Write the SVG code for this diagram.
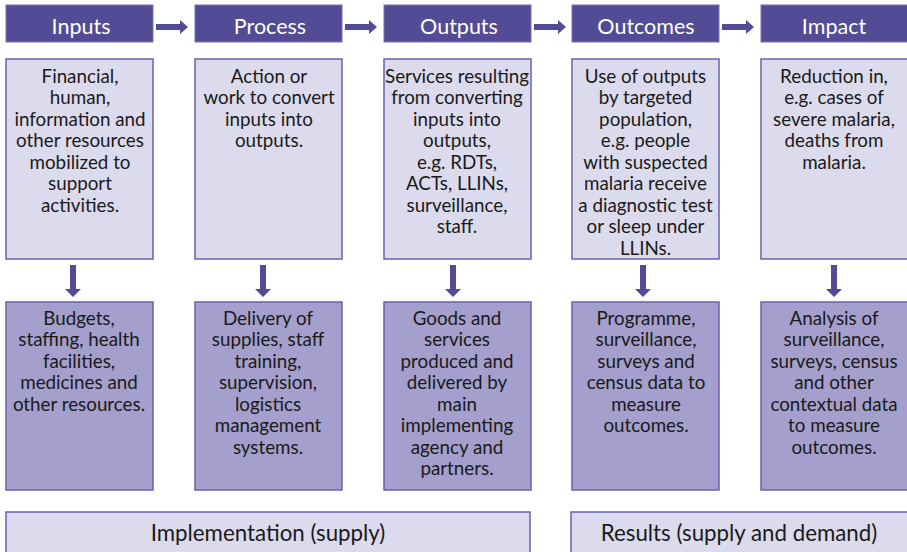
<svg xmlns="http://www.w3.org/2000/svg" width="907" height="552" viewBox="0 0 907 552">
<defs>
<style>
.hdr{fill:#534b95;stroke:#7a73b5;stroke-width:1}
.lt{fill:#dcdaed;stroke:#6a62aa;stroke-width:1.5}
.dk{fill:#a49fcc;stroke:#6a62aa;stroke-width:1.5}
.ht{font-family:Lato,"Liberation Sans",sans-serif;font-size:21.5px;fill:#ffffff;text-anchor:middle}
.bt{font-family:Lato,"Liberation Sans",sans-serif;font-size:18.8px;fill:#1a1a1a;text-anchor:middle}
.ft{font-family:Lato,"Liberation Sans",sans-serif;font-size:22.3px;fill:#1a1a1a;text-anchor:middle}
.ar{fill:#534b95}
</style>
<g id="harrow"><rect x="0" y="-3" width="24" height="6"/><polygon points="24,-7 32,0 24,7"/></g>
<g id="varrow"><rect x="-3" y="0" width="6" height="24"/><polygon points="-8,24 8,24 0,32"/></g>
</defs>

<g id="h-inputs"><rect class="hdr" x="6" y="5" width="147" height="37"/><text class="ht" x="81" y="33.5">Inputs</text></g>
<g id="h-process"><rect class="hdr" x="195" y="5" width="147" height="37"/><text class="ht" x="270" y="33.5">Process</text></g>
<g id="h-outputs"><rect class="hdr" x="384" y="5" width="147" height="37"/><text class="ht" x="459" y="33.5">Outputs</text></g>
<g id="h-outcomes"><rect class="hdr" x="572" y="5" width="147" height="37"/><text class="ht" x="646" y="33.5">Outcomes</text></g>
<g id="h-impact"><rect class="hdr" x="761" y="5" width="150" height="37"/><text class="ht" x="834" y="33.5">Impact</text></g>

<g id="m-inputs"><rect class="lt" x="6" y="59" width="147" height="200"/>
<text class="bt"><tspan x="80" y="82.5">Financial,</tspan><tspan x="80" y="104">human,</tspan><tspan x="80" y="125.5">information and</tspan><tspan x="80" y="147">other resources</tspan><tspan x="80" y="168.5">mobilized to</tspan><tspan x="80" y="190">support</tspan><tspan x="80" y="211.5">activities.</tspan></text></g>
<g id="m-process"><rect class="lt" x="195" y="59" width="147" height="200"/>
<text class="bt"><tspan x="269" y="82.5">Action or</tspan><tspan x="269" y="104">work to convert</tspan><tspan x="269" y="125.5">inputs into</tspan><tspan x="269" y="147">outputs.</tspan></text></g>
<g id="m-outputs"><rect class="lt" x="384" y="59" width="147" height="200"/>
<text class="bt"><tspan x="457" y="82.5">Services resulting</tspan><tspan x="457" y="104">from converting</tspan><tspan x="457" y="125.5">inputs into</tspan><tspan x="457" y="147">outputs,</tspan><tspan x="457" y="168.5">e.g. RDTs,</tspan><tspan x="457" y="190">ACTs, LLINs,</tspan><tspan x="457" y="211.5">surveillance,</tspan><tspan x="457" y="233">staff.</tspan></text></g>
<g id="m-outcomes"><rect class="lt" x="572" y="59" width="147" height="200"/>
<text class="bt"><tspan x="645.5" y="82.5">Use of outputs</tspan><tspan x="645.5" y="104">by targeted</tspan><tspan x="645.5" y="125.5">population,</tspan><tspan x="645.5" y="147">e.g. people</tspan><tspan x="645.5" y="168.5">with suspected</tspan><tspan x="645.5" y="190">malaria receive</tspan><tspan x="645.5" y="211.5">a diagnostic test</tspan><tspan x="645.5" y="233">or sleep under</tspan><tspan x="645.5" y="254.5">LLINs.</tspan></text></g>
<g id="m-impact"><rect class="lt" x="761" y="59" width="150" height="200"/>
<text class="bt"><tspan x="834" y="82.5">Reduction in,</tspan><tspan x="834" y="104">e.g. cases of</tspan><tspan x="834" y="125.5">severe malaria,</tspan><tspan x="834" y="147">deaths from</tspan><tspan x="834" y="168.5">malaria.</tspan></text></g>

<g id="b-inputs"><rect class="dk" x="6" y="302" width="147" height="188"/>
<text class="bt"><tspan x="79" y="324.5">Budgets,</tspan><tspan x="79" y="346">staffing, health</tspan><tspan x="79" y="367.5">facilities,</tspan><tspan x="79" y="389">medicines and</tspan><tspan x="79" y="410.5">other resources.</tspan></text></g>
<g id="b-process"><rect class="dk" x="195" y="302" width="147" height="188"/>
<text class="bt"><tspan x="268" y="324.5">Delivery of</tspan><tspan x="268" y="346">supplies, staff</tspan><tspan x="268" y="367.5">training,</tspan><tspan x="268" y="389">supervision,</tspan><tspan x="268" y="410.5">logistics</tspan><tspan x="268" y="432">management</tspan><tspan x="268" y="453.5">systems.</tspan></text></g>
<g id="b-outputs"><rect class="dk" x="384" y="302" width="147" height="188"/>
<text class="bt"><tspan x="457" y="324.5">Goods and</tspan><tspan x="457" y="346">services</tspan><tspan x="457" y="367.5">produced and</tspan><tspan x="457" y="389">delivered by</tspan><tspan x="457" y="410.5">main</tspan><tspan x="457" y="432">implementing</tspan><tspan x="457" y="453.5">agency and</tspan><tspan x="457" y="475">partners.</tspan></text></g>
<g id="b-outcomes"><rect class="dk" x="572" y="302" width="147" height="188"/>
<text class="bt"><tspan x="646" y="324.5">Programme,</tspan><tspan x="646" y="346">surveillance,</tspan><tspan x="646" y="367.5">surveys and</tspan><tspan x="646" y="389">census data to</tspan><tspan x="646" y="410.5">measure</tspan><tspan x="646" y="432">outcomes.</tspan></text></g>
<g id="b-impact"><rect class="dk" x="761" y="302" width="150" height="188"/>
<text class="bt"><tspan x="834" y="324.5">Analysis of</tspan><tspan x="834" y="346">surveillance,</tspan><tspan x="834" y="367.5">surveys, census</tspan><tspan x="834" y="389">and other</tspan><tspan x="834" y="410.5">contextual data</tspan><tspan x="834" y="432">to measure</tspan><tspan x="834" y="453.5">outcomes.</tspan></text></g>

<g id="f-implementation"><rect class="lt" x="6" y="512" width="524" height="45"/><text class="ft" x="268" y="540.5">Implementation (supply)</text></g>
<g id="f-results"><rect class="lt" x="571" y="512" width="345" height="45"/><text class="ft" x="739" y="540.5">Results (supply and demand)</text></g>

<g id="connectors" class="ar">
<use href="#harrow" x="156" y="27"/>
<use href="#harrow" x="345" y="27"/>
<use href="#harrow" x="534" y="27"/>
<use href="#harrow" x="722" y="27"/>
<use href="#varrow" x="73" y="265"/>
<use href="#varrow" x="263" y="265"/>
<use href="#varrow" x="453" y="265"/>
<use href="#varrow" x="643" y="265"/>
<use href="#varrow" x="834" y="265"/>
</g>
</svg>
